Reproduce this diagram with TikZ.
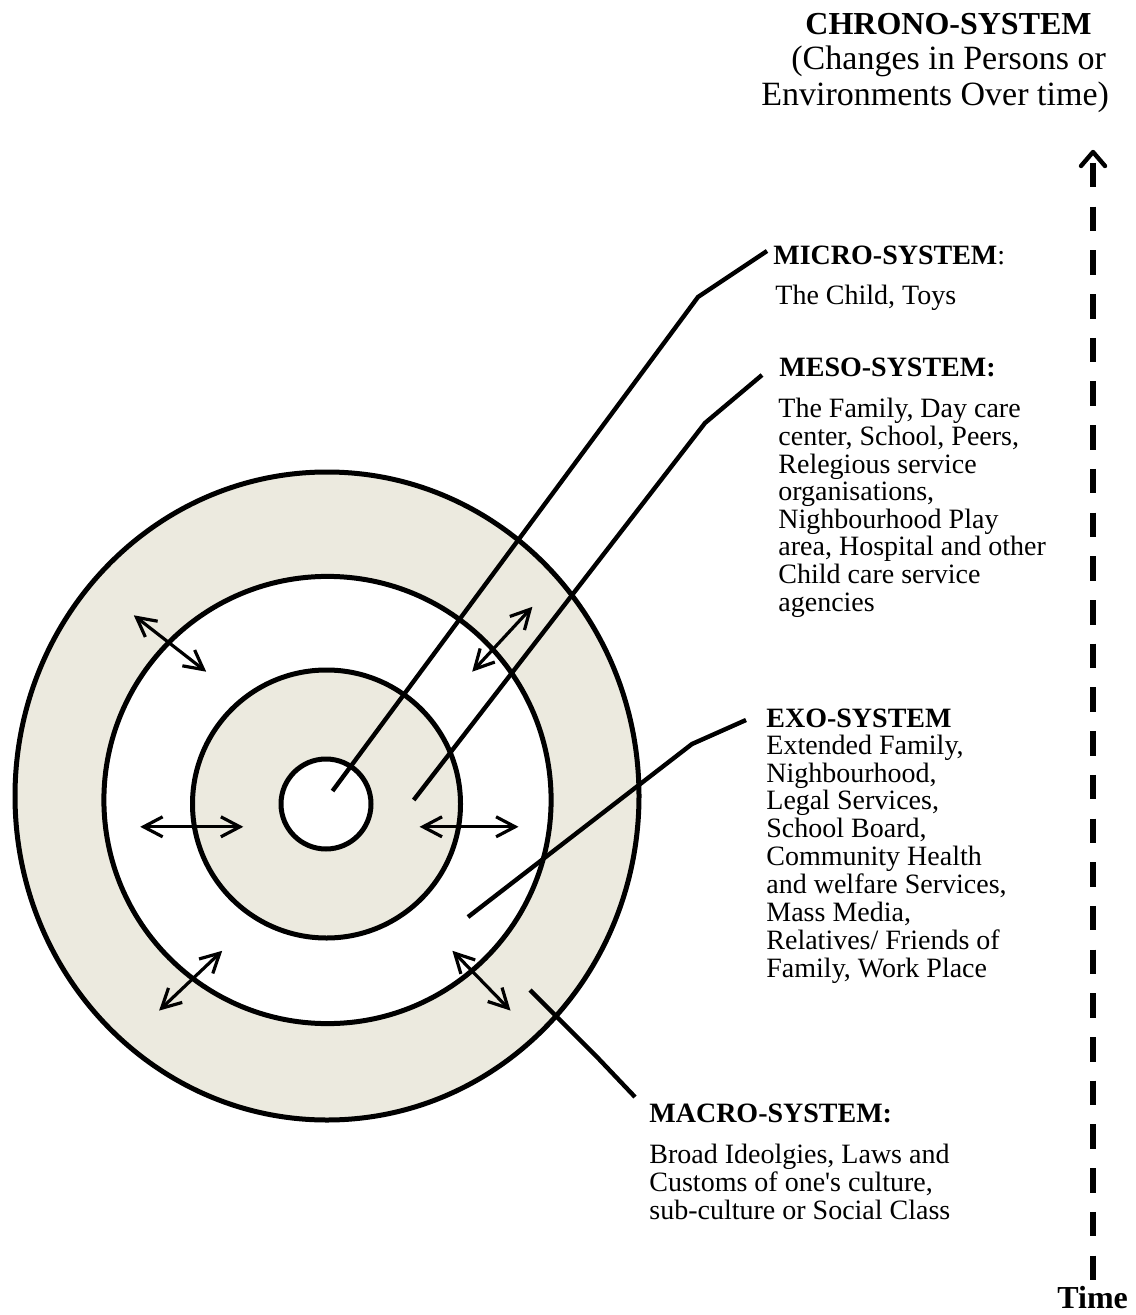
\documentclass[tikz,border=0pt]{standalone}
\usepackage{fontspec}
\setmainfont{Liberation Serif}
\usetikzlibrary{arrows.meta}
\definecolor{ringfill}{RGB}{236,234,223}
\begin{document}
\begin{tikzpicture}[x=0.5pt,y=-0.5pt,
  ring/.style={line width=2.5pt},
  leader/.style={line width=2.2pt},
  flow/.style={line width=1.6pt,
    {Straight Barb[length=9.5pt,width=10pt]}-{Straight Barb[length=9.5pt,width=10pt]}},
  txt/.style={anchor=base west, inner sep=0pt},
  bodytext/.style={txt, font=\fontsize{14}{13.7}\selectfont},
  headtext/.style={txt, font=\fontsize{14}{14}\selectfont\bfseries},
  chronotext/.style={txt, font=\fontsize{17}{18}\selectfont},
  chronohead/.style={txt, font=\fontsize{16}{18}\selectfont\bfseries}
]
\useasboundingbox (0,0) rectangle (1135,1315);

% concentric system rings
\filldraw[ring, fill=ringfill] (327,796) ellipse [x radius=156pt, y radius=162pt];
\filldraw[ring, fill=white] (327.5,800) circle [radius=111.8pt];
\filldraw[ring, fill=ringfill] (326.5,804) circle [radius=67pt];
\filldraw[ring, fill=white] (326,804) circle [radius=22.5pt];

% leader lines to the labels
\coordinate (mic-a) at (332.5,791);
\coordinate (mic-b) at (698,297);
\coordinate (mic-c) at (767,251);
\coordinate (mes-a) at (413.7,800);
\coordinate (mes-b) at (705,423);
\coordinate (mes-c) at (762,375);
\coordinate (exo-a) at (468,917);
\coordinate (exo-b) at (692,744);
\coordinate (exo-c) at (746,720);
\coordinate (mac-a) at (530,990);
\coordinate (mac-b) at (597,1057);
\coordinate (mac-c) at (635,1097);
\draw[leader] (mic-a) -- (mic-b) -- (mic-c);
\draw[leader] (mes-a) -- (mes-b) -- (mes-c);
\draw[leader] (exo-a) -- (exo-b) -- (exo-c);
\draw[leader] (mac-a) -- (mac-b) -- (mac-c);

% two-way interaction arrows between the rings
\coordinate (ul-a) at (133.8,615.3);
\coordinate (ul-b) at (206.2,671.7);
\coordinate (ur-a) at (532.4,606.8);
\coordinate (ur-b) at (472.2,671.7);
\coordinate (ml-a) at (140.2,826.8);
\coordinate (ml-b) at (243.3,826.8);
\coordinate (mr-a) at (419.6,826.8);
\coordinate (mr-b) at (518.5,826.8);
\coordinate (ll-a) at (159.1,1010.6);
\coordinate (ll-b) at (222.2,950.8);
\coordinate (lr-a) at (452.4,950.8);
\coordinate (lr-b) at (510.5,1010.6);
\draw[flow] (ul-a) -- (ul-b);
\draw[flow] (ur-a) -- (ur-b);
\draw[flow] (ml-a) -- (ml-b);
\draw[flow] (mr-a) -- (mr-b);
\draw[flow] (ll-a) -- (ll-b);
\draw[flow] (lr-a) -- (lr-b);

% time axis
\coordinate (t-top) at (1093,152);
\coordinate (t-start) at (1093,163);
\coordinate (t-end) at (1093,1281);
\draw[line width=3.3pt, dash pattern=on 12.25pt off 9.6pt] (t-start) -- (t-end);
\draw[line width=2.2pt, line cap=round, line join=round]
  (1081,166) -- (t-top) -- (1105,166);

% chrono-system label
\node[chronohead] (chrono-h) at (805,35) {CHRONO-SYSTEM};
\node[chronotext] (chrono-1) at (791,70) {(Changes in Persons or};
\node[chronotext] (chrono-2) at (761,106) {Environments Over time)};

% micro-system
\node[headtext] (micro-h) at (773,265) {MICRO-SYSTEM\textmd{:}};
\node[bodytext] (micro-b) at (775,305) {The Child, Toys};

% meso-system
\node[headtext] (meso-h) at (779,377) {MESO-SYSTEM:};
\node[bodytext] (meso-b) at (778,418) {\begin{tabular}[t]{@{}l@{}}
The Family, Day care\\
center, School, Peers,\\
Relegious service\\
organisations,\\
Nighbourhood Play\\
area, Hospital and other\\
Child care service\\
agencies\end{tabular}};

% exo-system
\node[headtext] (exo-h) at (766,727) {EXO-SYSTEM};
\node[txt, font=\fontsize{14}{13.9}\selectfont] (exo-b) at (766,754.3) {\begin{tabular}[t]{@{}l@{}}
Extended Family,\\
Nighbourhood,\\
Legal Services,\\
School Board,\\
Community Health\\
and welfare Services,\\
Mass Media,\\
Relatives/ Friends of\\
Family, Work Place\end{tabular}};

% macro-system
\node[headtext] (macro-h) at (649,1122) {MACRO-SYSTEM:};
\node[txt, font=\fontsize{14}{14}\selectfont] (macro-b) at (649,1163) {\begin{tabular}[t]{@{}l@{}}
Broad Ideolgies, Laws and\\
Customs of one\textquotesingle s culture,\\
sub-culture or Social Class\end{tabular}};

% time label
\node[chronohead] (time) at (1057,1308) {Time};
\end{tikzpicture}
\end{document}
